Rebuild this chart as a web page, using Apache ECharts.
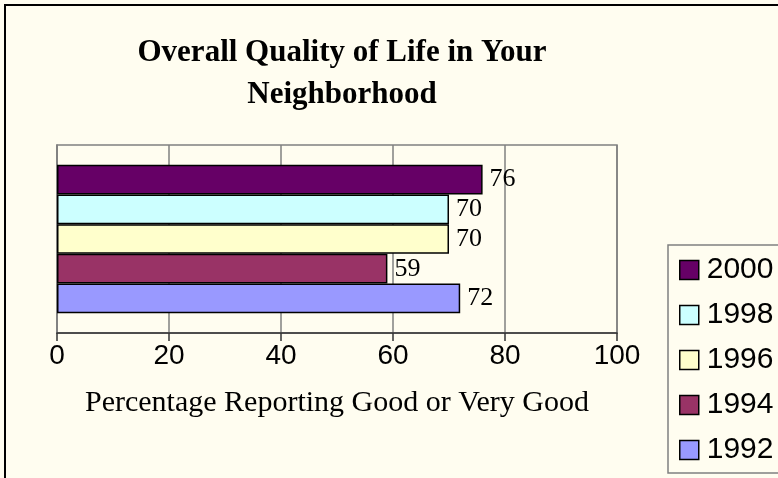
<!DOCTYPE html>
<html>
<head>
<meta charset="utf-8">
<script src="https://cdn.jsdelivr.net/npm/echarts@6/dist/echarts.min.js"></script>
<style>
  html, body { margin: 0; padding: 0; background: #FFFDF0; }
  #chart { width: 778px; height: 478px; }
</style>
</head>
<body>
<div id="chart"></div>
<script>
// one category, one bar per survey year (top to bottom)
const years = ['2000', '1998', '1996', '1994', '1992'];
const values = [76, 70, 70, 59, 72];
const colors = ['#660066', '#CCFFFF', '#FFFFCC', '#993366', '#9999FF'];
const categories = ['Overall'];
const xTicks = [0, 20, 40, 60, 80, 100];

const chart = echarts.init(document.getElementById('chart'));

const series = years.map((year, i) => ({
  name: year,
  type: 'bar',
  data: [values[i]],
  barGap: '0%',
  barCategoryGap: '21%',
  itemStyle: {
    color: colors[i],
    borderColor: '#000',
    borderWidth: 1.5
  },
  label: {
    show: true,
    position: 'right',
    distance: 7,
    color: '#000',
    fontFamily: 'Liberation Serif',
    fontSize: 26
  }
}));

chart.setOption({
  backgroundColor: '#FFFDF0',
  animation: false,
  title: {
    text: 'Overall Quality of Life in Your\nNeighborhood',
    left: 337,
    top: 27,
    textAlign: 'center',
    textStyle: {
      fontFamily: 'Liberation Serif',
      fontWeight: 'bold',
      fontSize: 31,
      lineHeight: 42,
      color: '#000'
    }
  },
  graphic: [{
    type: 'rect',
    shape: { x: 5, y: 5, width: 800, height: 500 },
    style: { fill: null, stroke: '#000', lineWidth: 2 },
    silent: true
  }],
  legend: {
    data: years,
    orient: 'vertical',
    left: 668,
    top: 245,
    padding: [10, 30, 8, 11],
    icon: 'rect',
    itemWidth: 19,
    itemHeight: 19,
    itemGap: 15,
    borderColor: '#808080',
    borderWidth: 1.5,
    itemStyle: { borderColor: '#000', borderWidth: 1.5 },
    textStyle: {
      fontFamily: 'Liberation Sans',
      fontSize: 30,
      color: '#000',
      padding: [0, 0, 0, 3]
    }
  },
  grid: {
    left: 57,
    right: 161,
    top: 145,
    bottom: 145,
    show: true,
    borderColor: '#808080',
    borderWidth: 1.5,
    containLabel: false
  },
  xAxis: {
    type: 'value',
    min: xTicks[0],
    max: xTicks[xTicks.length - 1],
    interval: 20,
    name: 'Percentage Reporting Good or Very Good',
    nameLocation: 'middle',
    nameGap: 55,
    nameTextStyle: {
      fontFamily: 'Liberation Serif',
      fontSize: 30,
      color: '#000'
    },
    axisLine: { show: true, lineStyle: { color: '#333', width: 1.5 } },
    axisTick: { show: true, length: 8, lineStyle: { color: '#333', width: 1.5 } },
    axisLabel: {
      margin: 9,
      fontFamily: 'Liberation Sans',
      fontSize: 28,
      color: '#000'
    },
    splitLine: { show: true, lineStyle: { color: '#808080', width: 1.5 } }
  },
  yAxis: {
    type: 'category',
    data: categories,
    axisLine: { show: true, lineStyle: { color: '#808080', width: 1.5 } },
    axisTick: { show: false },
    axisLabel: { show: false }
  },
  series: series
});
</script>
</body>
</html>
